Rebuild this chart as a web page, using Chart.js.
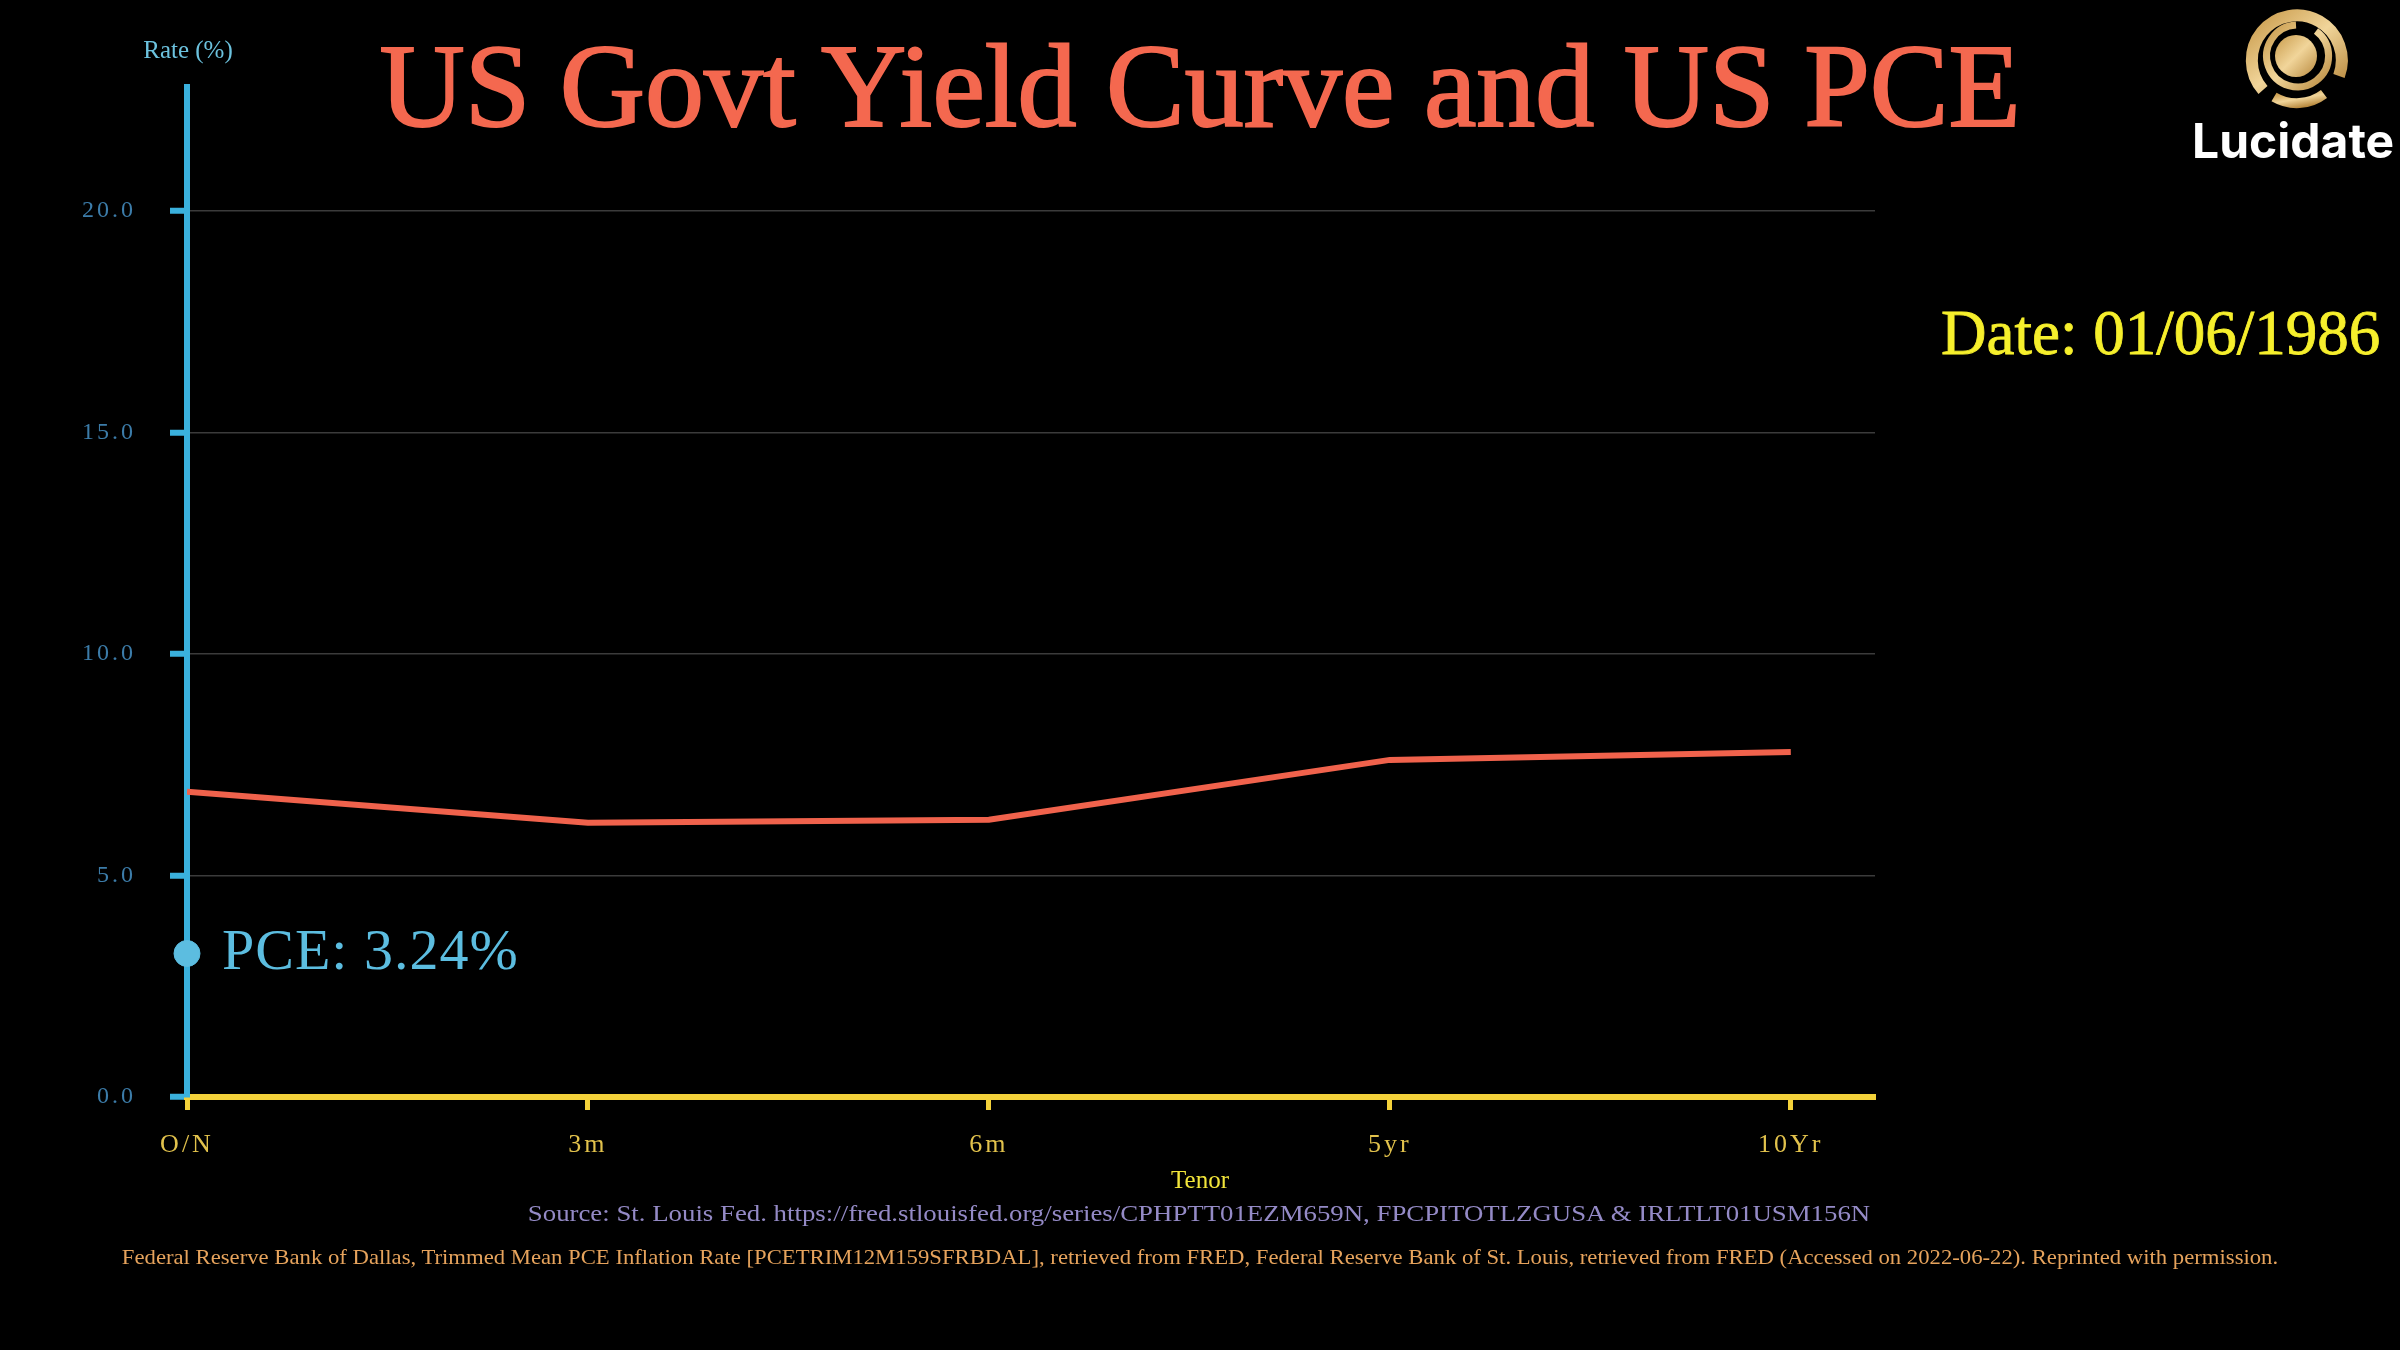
<!DOCTYPE html>
<html>
<head>
<meta charset="utf-8">
<script src="https://cdn.jsdelivr.net/npm/chart.js@4.4.1/dist/chart.umd.min.js"></script>
<style>
  html, body { margin: 0; padding: 0; background: #000; width: 2400px; height: 1350px; overflow: hidden; }
  #wrap { position: relative; width: 2400px; height: 1350px; }
  canvas { position: absolute; left: 0; top: 0; }
  .t { position: absolute; white-space: nowrap; line-height: 1; font-family: "Liberation Serif", "DejaVu Serif", serif; }
  .fit { transform-origin: center top; }
</style>
</head>
<body>
<div id="wrap">
  <canvas id="c" width="2400" height="1350"></canvas>
  <div class="t" id="title" style="left:1200px; top:28px; font-size:118px; color:#f4684f; -webkit-text-stroke:2px #f4684f; transform:translateX(-50%);">US Govt Yield Curve and US PCE</div>
  <div class="t" id="rate" style="left:188px; top:37px; font-size:25px; color:#6cc2de; transform:translateX(-50%);">Rate (%)</div>
  <div class="t" id="date" style="left:1941px; top:302px; font-size:63px; color:#f6ef2c; -webkit-text-stroke:0.8px #f6ef2c;">Date: 01/06/1986</div>
  <div class="t" id="tenor" style="left:1200px; top:1167px; font-size:25px; color:#f2e53a; transform:translateX(-50%);">Tenor</div>
  <div class="t fit" id="src1" data-w="1342" style="left:1199px; top:1202px; font-size:23px; color:#948ac6;">Source: St. Louis Fed. https://fred.stlouisfed.org/series/CPHPTT01EZM659N, FPCPITOTLZGUSA &amp; IRLTLT01USM156N</div>
  <div class="t fit" id="src2" data-w="2156" style="left:1200px; top:1247px; font-size:21px; color:#e6a35c;">Federal Reserve Bank of Dallas, Trimmed Mean PCE Inflation Rate [PCETRIM12M159SFRBDAL], retrieved from FRED, Federal Reserve Bank of St. Louis, retrieved from FRED (Accessed on 2022-06-22). Reprinted with permission.</div>
  <svg style="position:absolute; left:2236px; top:-2px;" width="120" height="116" viewBox="0 0 120 116">
    <defs>
      <linearGradient id="g" x1="0" y1="0" x2="1" y2="1">
        <stop offset="0" stop-color="#c89a4a"/>
        <stop offset="0.5" stop-color="#f1d59a"/>
        <stop offset="1" stop-color="#b8893e"/>
      </linearGradient>
    </defs>
    <path d="M 27 92 A 45 45 0 1 1 103 78" fill="none" stroke="url(#g)" stroke-width="12"/>
    <path d="M 88 96 A 45 45 0 0 1 38 99" fill="none" stroke="url(#g)" stroke-width="10"/>
    <path d="M 80 33 A 31 31 0 1 1 60 27" fill="none" stroke="url(#g)" stroke-width="7"/>
    <circle cx="60" cy="58" r="21" fill="url(#g)"/>
  </svg>
  <div class="t" id="logo" style="left:2192px; top:117px; font-family:Inter, 'Open Sans', sans-serif; font-weight:700; font-size:48px; color:#ffffff;">Lucidate</div>
</div>
<script>
// ---- data ----
const tenors = ["O/N", "3m", "6m", "5yr", "10Yr"];
const yields = [6.89, 6.19, 6.26, 7.61, 7.79];
const pceValue = [3.24];
const yTicks = [0, 5, 10, 15, 20];

// fit condensed source lines
document.querySelectorAll('.fit').forEach(el => {
  const w = el.offsetWidth;
  const target = +el.dataset.w;
  el.style.transform = 'translateX(-50%) scaleX(' + (target / w) + ')';
});

const spacingPlugin = {
  id: 'spacing',
  beforeDraw(chart) { chart.ctx.letterSpacing = '3px'; },
  beforeDatasetsDraw(chart) { chart.ctx.letterSpacing = '0px'; }
};

const pceLabel = {
  id: 'pceLabel',
  afterDatasetsDraw(chart) {
    const ctx = chart.ctx;
    const xs = chart.scales.x, ys = chart.scales.y;
    const px = xs.getPixelForValue(0), py = ys.getPixelForValue(pceValue[0]);
    ctx.save();
    ctx.letterSpacing = '1px';
    ctx.font = '58px "Liberation Serif", serif';
    ctx.fillStyle = '#5cbde0';
    ctx.textAlign = 'left';
    ctx.textBaseline = 'middle';
    ctx.fillText('PCE: ' + pceValue[0].toFixed(2) + '%', px + 35, py);
    ctx.restore();
  }
};

new Chart(document.getElementById('c'), {
  type: 'line',
  data: {
    datasets: [
      {
        label: 'Yield',
        data: yields.map((v, i) => ({ x: i, y: v })),
        borderColor: '#f0624c',
        borderWidth: 6,
        pointRadius: 0,
        tension: 0,
        fill: false,
        order: 2
      },
      {
        label: 'PCE',
        type: 'scatter',
        data: pceValue.map(v => ({ x: 0, y: v })),
        backgroundColor: '#5cbde0',
        borderColor: '#5cbde0',
        pointRadius: 13,
        pointHoverRadius: 13,
        clip: false,
        order: 1
      }
    ]
  },
  options: {
    responsive: false,
    devicePixelRatio: 1,
    animation: false,
    events: [],
    layout: { padding: { left: 0, top: 87, right: 525, bottom: 143 } },
    plugins: { legend: { display: false }, tooltip: { enabled: false } },
    scales: {
      x: {
        type: 'linear',
        min: 0,
        max: 4.21,
        afterBuildTicks: s => { s.ticks = tenors.map((_, i) => ({ value: i })); },
        afterFit: s => { s.height = 110; },
        border: { display: true, color: '#f3d13a', width: 6 },
        grid: { drawOnChartArea: false, drawTicks: true, tickColor: '#f3d13a', tickLength: 13, tickWidth: 5 },
        ticks: {
          autoSkip: false,
          maxRotation: 0,
          padding: 20,
          color: '#e2c24c',
          font: { family: '"Liberation Serif", serif', size: 26 },
          callback: v => tenors[v] ?? ''
        }
      },
      y: {
        min: 0,
        max: 22.8,
        afterBuildTicks: s => { s.ticks = yTicks.map(v => ({ value: v })); },
        afterFit: s => { s.width = 187; },
        border: { display: true, color: '#3ab1dd', width: 6 },
        grid: { color: '#3b3b3b', lineWidth: 1.5, drawTicks: true, tickColor: '#3ab1dd', tickLength: 17, tickWidth: 6 },
        ticks: {
          padding: 34,
          color: '#3c7ca9',
          font: { family: '"Liberation Serif", serif', size: 24 },
          callback: v => Number(v).toFixed(1)
        }
      }
    }
  },
  plugins: [spacingPlugin, pceLabel]
});
</script>
</body>
</html>
